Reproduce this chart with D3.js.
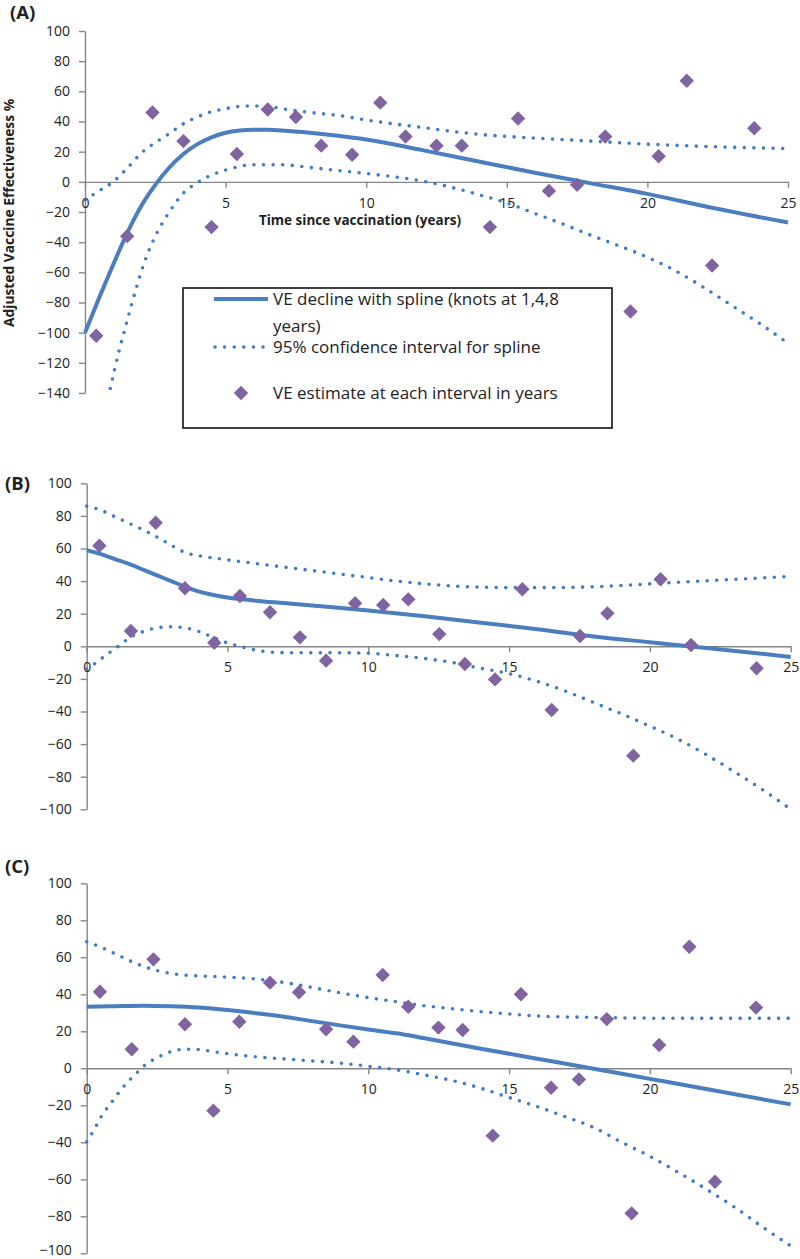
<!DOCTYPE html>
<html><head><meta charset="utf-8">
<script src="https://cdn.jsdelivr.net/npm/d3@7"></script>
<style>
body{margin:0;background:#fff}
svg{display:block}
text{font-family:'Open Sans',sans-serif;fill:#222}
</style>
</head><body>
<svg id="c" width="800" height="1259"></svg>
<script>
// ---------- data ----------
const xTicks = [0,5,10,15,20,25];
const yTicksA = [-140,-120,-100,-80,-60,-40,-20,0,20,40,60,80,100];
const yTicksBC = [-100,-80,-60,-40,-20,0,20,40,60,80,100];

// Panel A
const ptXA = [0.4,1.5,2.4,3.5,4.5,5.4,6.5,7.5,8.4,9.5,10.5,11.4,12.5,13.4,14.4,15.4,16.5,17.5,18.5,19.4,20.4,21.4,22.3,23.8];
const ptYA = [-102,-36,46,27,-30,18.5,48,43,24,18,52.5,30,24,24,-30,42,-6,-2,30,-86,17,67,-55.5,35.5];
const splXA = [0,0.5,1,1.5,2,2.5,3,3.5,4,4.5,5,5.5,6,6.5,7,8,9,10,12,14,16,18,20,22,25];
const splYA = [-100,-77,-55,-34,-16,-2,9.5,18.5,25,29.5,32.5,34,34.5,34.5,34,32.5,30.5,28,21,13.5,6,-1,-8,-16,-27];
const upXA = [0,0.5,1,1.5,2,2.5,3,3.5,4,4.5,5,5.5,6,6.5,7,8,9,10,12,14,16,18,20,22,25];
const upYA = [-12,-6,0,9,19,26,32,38.5,43,46.5,48.5,50,50.3,50,48.5,46,44,41,36,31.5,29,27,25,23.5,22];
const loXA = [0.9,1.2,1.5,1.8,2.1,2.4,2.7,3,3.5,4,4.5,5,6,7,8,9,10,11,12,13,14,15,16,17,18,19,20,21,22,23,24,25];
const loYA = [-137,-113,-92,-72,-54,-40,-29,-20,-7.5,-0.5,4.5,7.8,11.3,11.3,9.5,7.5,5.5,3.3,0.5,-3.5,-8.5,-14,-21,-28,-35.5,-42.5,-50,-59,-70,-82,-94,-107];

// Panel B
const ptXB = [0.45,1.57,2.45,3.49,4.53,5.44,6.51,7.57,8.5,9.53,10.53,11.42,12.52,13.43,14.5,15.47,16.51,17.52,18.49,19.41,20.38,21.46,23.79];
const ptYB = [61.7,9.4,75.8,35.6,2.2,30.9,20.9,5.5,-8.8,26.4,25.3,28.8,7.5,-10.9,-20.3,35,-39.1,6.3,20.2,-67.1,41.1,0.8,-13.5];
const splXB = [0,0.5,1,1.5,2,2.5,3,3.5,4,4.5,5,6,7,8,10,12,14,16,18,20,22,25];
const splYB = [59,56.5,53.5,50.5,47,43.5,40,36.5,33.5,31.5,30,28,26.5,25,22,18.5,14.5,10.5,6,2.5,-1,-6.5];
const upXB = [0,0.5,1,1.5,2,2.5,3,3.5,4,4.5,5,6,7,8,9,10,11,12,13,14,15,16,17,18,19,20,21,22,23,24,25];
const upYB = [86,83.5,79.5,75.5,71.5,67,62,57.5,55.5,54.2,53,50.8,48.6,46.5,44.3,42.2,40,38.3,37,36.3,36,36,36.1,36.5,37.3,38.3,39.3,40.2,41.1,42,42.8];
const loXB = [0,0.3,0.6,0.9,1.2,1.5,2,2.5,3,3.5,4,4.5,5,5.5,6,7,8,9,10,11,12,13,14,15,16,17,18,19,20,21,22,23,24,25];
const loYB = [-14,-10.5,-6.5,-2.7,1,5,9,11.3,12,11.3,9,5.5,2,-0.3,-2.3,-3.9,-4,-4,-4.3,-5.7,-7.5,-10,-13.5,-16.8,-21.5,-27.5,-34.5,-41.5,-49,-57,-66.5,-77,-88,-100];

// Panel C
const ptXC = [0.47,1.6,2.37,3.49,4.5,5.42,6.51,7.54,8.5,9.47,10.51,11.42,12.49,13.35,14.42,15.42,16.49,17.48,18.47,19.35,20.33,21.4,22.31,23.77];
const ptYC = [41.4,10.3,58.9,23.8,-22.9,25.2,46.3,41.1,21.1,14.4,50.4,33.3,22,20.7,-36.4,40,-10.5,-6,26.6,-78.4,12.6,65.7,-61.3,32.8];
const splXC = [0,1,2,3,4,5,6,7,8,9,10,11,12,14,16,18,20,22,25];
const splYC = [33.3,33.6,33.8,33.5,32.8,31.5,29.8,27.9,25.5,23.2,21,18.9,16.2,10.6,5.2,-0.2,-5.7,-11.2,-19.5];
const upXC = [0,0.5,1,1.5,2,2.5,3,3.5,4,5,6,7,8,9,10,11,12,13,14,15,16,18,20,22,25];
const upYC = [68.4,65.5,62,58.3,55.2,52.8,51.3,50.3,49.9,49.3,48.3,46.4,43.7,40.8,38.2,36,33.8,32.2,30.6,29.4,28.3,27.5,27.1,27,27];
const loXC = [0,0.25,0.5,0.75,1,1.25,1.5,1.75,2,2.5,3,3.5,4,4.5,5,6,7,8,9,10,11,12,13,14,15,16,17,18,19,20,21,22,23,24,25];
const loYC = [-39.7,-33.5,-26.5,-21,-16,-11,-6.7,-3,0.8,5.7,9,10.3,10.1,9,7.9,6.2,5.1,4,2.8,1.1,-0.8,-3.6,-6.7,-10.8,-15.8,-20.7,-26.2,-32,-40,-47.6,-56.2,-65.3,-75,-85.8,-96];

const legendLabels = ["VE decline with spline (knots at 1,4,8", "years)", "95% confidence interval for spline", "VE estimate at each interval in years"];

// ---------- styles ----------
const LINE = "#4A7EBF", DOT = "#3F7CC8", DIAM = "#8064A2", AXIS = "#868686";
const FONT = "'Open Sans',sans-serif";
const svg = d3.select("#c");
const zip = (xs, ys) => xs.map((x,i) => [x, ys[i]]);
const diamondPath = "M0,-7.2L7.2,0L0,7.2L-7.2,0Z";

function panel(o) {
  const x = d3.scaleLinear().domain([0,25]).range([o.x0, o.x1]);
  const y = d3.scaleLinear().domain(o.yDom).range([o.yB, o.yT]);
  const g = svg.append("g");

  // y axis
  const ya = g.append("g").attr("transform", `translate(${o.x0},0)`)
    .call(d3.axisLeft(y).tickValues(o.yTicks).tickSize(6).tickSizeOuter(0).tickPadding(9));
  ya.select(".domain").attr("stroke", AXIS).attr("stroke-width", 1.4);
  ya.selectAll(".tick line").attr("stroke", AXIS).attr("stroke-width", 1.4);
  ya.selectAll(".tick text").attr("font-size", 14).attr("font-family", FONT).attr("fill", "#222");
  if (o.lastUp) ya.selectAll(".tick text").filter(d => d === o.yDom[0]).attr("dy", "0.1em");

  // x axis at y=0
  const xa = g.append("g").attr("transform", `translate(0,${y(0)})`)
    .call(d3.axisBottom(x).tickValues(xTicks).tickSize(6).tickSizeOuter(0));
  xa.select(".domain").attr("stroke", AXIS).attr("stroke-width", 1.4);
  xa.selectAll(".tick line").attr("stroke", AXIS).attr("stroke-width", 1.4);
  xa.selectAll(".tick text").attr("font-size", 14).attr("font-family", FONT)
    .attr("fill", "#222").attr("y", 21).attr("dy", "0.35em");

  const line = d3.line().x(d => x(d[0])).y(d => y(d[1])).curve(d3.curveMonotoneX);

  g.append("path").datum(zip(o.upX, o.upY)).attr("d", line).attr("fill", "none")
    .attr("stroke", DOT).attr("stroke-width", 3.6).attr("stroke-linecap", "round").attr("stroke-dasharray", "0 9.6");
  g.append("path").datum(zip(o.loX, o.loY)).attr("d", line).attr("fill", "none")
    .attr("stroke", DOT).attr("stroke-width", 3.6).attr("stroke-linecap", "round").attr("stroke-dasharray", "0 9.6");
  g.append("path").datum(zip(o.splX, o.splY)).attr("d", line).attr("fill", "none")
    .attr("stroke", LINE).attr("stroke-width", 4);

  g.selectAll(".pt").data(zip(o.ptX, o.ptY)).join("path").attr("class","pt")
    .attr("d", diamondPath).attr("fill", DIAM)
    .attr("transform", d => `translate(${x(d[0])},${y(d[1])})`);

  svg.append("text").attr("x", o.lx).attr("y", o.ly).attr("font-size", 18.5).attr("font-weight", "bold")
    .attr("fill", "#111").text(o.label);
  return {x, y};
}

panel({x0:85, x1:788, yDom:[-140,100], yB:393, yT:31, yTicks:yTicksA,
  ptX:ptXA, ptY:ptYA, splX:splXA, splY:splYA, upX:upXA, upY:upYA, loX:loXA, loY:loYA,
  label:"(A)", lx:10, ly:19});
panel({x0:86.7, x1:790.7, yDom:[-100,100], yB:809.3, yT:483.3, yTicks:yTicksBC,
  ptX:ptXB, ptY:ptYB, splX:splXB, splY:splYB, upX:upXB, upY:upYB, loX:loXB, loY:loYB,
  label:"(B)", lx:5, ly:490});
panel({x0:86.7, x1:790.7, yDom:[-100,100], yB:1253.3, yT:883.3, yTicks:yTicksBC, lastUp:true,
  ptX:ptXC, ptY:ptYC, splX:splXC, splY:splYC, upX:upXC, upY:upYC, loX:loXC, loY:loYC,
  label:"(C)", lx:5, ly:873});

// axis titles (panel A)
svg.append("text").attr("x", 360).attr("y", 225).attr("text-anchor", "middle")
  .attr("font-size", 13.5).attr("font-weight", "bold").attr("fill", "#111").text("Time since vaccination (years)");
svg.append("text").attr("transform", "translate(9,213) rotate(-90)").attr("dy", "0.35em").attr("text-anchor", "middle")
  .attr("font-size", 13.8).attr("font-weight", "bold").attr("fill", "#111").text("Adjusted Vaccine Effectiveness %");

// legend
const lg = svg.append("g");
lg.append("rect").attr("x", 183).attr("y", 288).attr("width", 429).attr("height", 140)
  .attr("fill", "#fff").attr("stroke", "#111").attr("stroke-width", 1.6);
lg.append("line").attr("x1", 214).attr("x2", 268).attr("y1", 299).attr("y2", 299)
  .attr("stroke", LINE).attr("stroke-width", 4);
lg.append("line").attr("x1", 215).attr("x2", 268).attr("y1", 347).attr("y2", 347)
  .attr("stroke", DOT).attr("stroke-width", 3.6).attr("stroke-linecap", "round").attr("stroke-dasharray", "0 9.6");
lg.append("path").attr("d", diamondPath).attr("fill", DIAM).attr("transform", "translate(241,393)");
const ly = [299, 326, 347, 393];
legendLabels.forEach((t, i) => {
  lg.append("text").attr("x", 273).attr("y", ly[i]).attr("dy", "0.35em").attr("font-size", 17).attr("fill", "#222").text(t);
});
</script>
</body></html>
